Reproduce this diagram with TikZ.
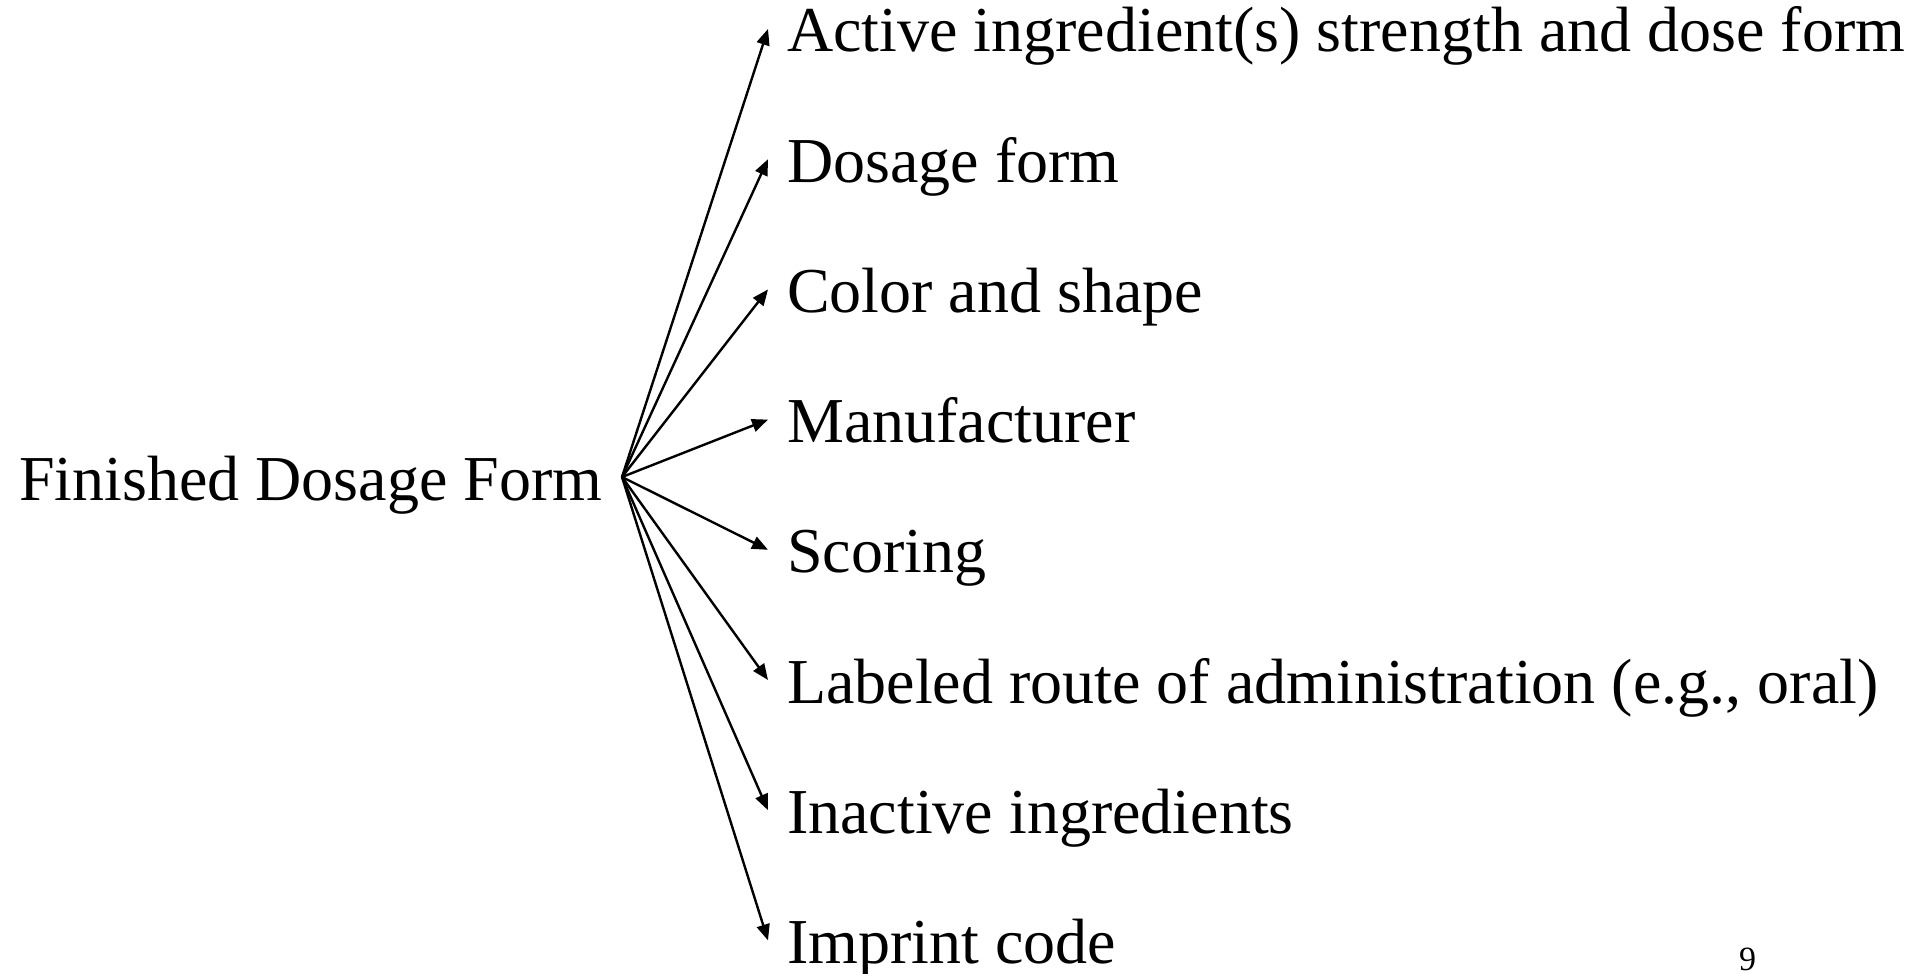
\documentclass[tikz,border=0pt]{standalone}
\usepackage{fontspec}
\setmainfont{Liberation Serif}
\usetikzlibrary{arrows.meta}

\begin{document}
\begin{tikzpicture}[x=1pt,y=-1pt,line width=2.4pt,
		item/.style={anchor=base west,inner xsep=18pt,inner ysep=0pt,text height=46pt,text depth=0pt,font=\fontsize{64}{64}\selectfont},
		fan/.style={-{Triangle[length=16pt,width=13pt]}}]
			\useasboundingbox (0,0) rectangle (1915,974);
			\node [anchor=base west,inner sep=0pt,font=\fontsize{64}{64}\selectfont] (form) at (18,500) {Finished Dosage Form};
			\coordinate (hub) at (622,477);
			\node [item] (active) at (768,52) {Active ingredient(s) strength and dose form};
			\node [item] (dosage) at (768,182.2) {Dosage form};
			\node [item] (color) at (768,312.4) {Color and shape};
			\node [item] (maker) at (768,442.6) {Manufacturer};
			\node [item] (scoring) at (768,572.8) {Scoring};
			\node [item] (route) at (768,703) {Labeled route of administration (e.g., oral)};
			\node [item] (inactive) at (768,833.2) {Inactive ingredients};
			\node [item] (imprint) at (768,963.4) {Imprint code};
			\draw [fan] (hub) -- (active.west);
			\draw [fan] (hub) -- (dosage.west);
			\draw [fan] (hub) -- (color.west);
			\draw [fan] (hub) -- (maker.west);
			\draw [fan] (hub) -- (scoring.west);
			\draw [fan] (hub) -- (route.west);
			\draw [fan] (hub) -- (inactive.west);
			\draw [fan] (hub) -- (imprint.west);
			\node [anchor=base west,inner sep=0pt,font=\fontsize{34}{34}\selectfont] (page) at (1738,970) {9};
		\end{tikzpicture}
\end{document}
